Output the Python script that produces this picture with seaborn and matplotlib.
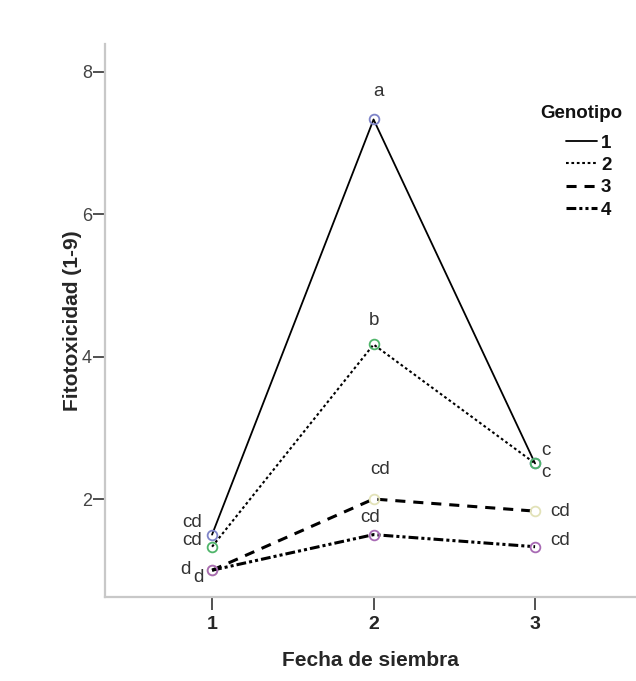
import matplotlib
matplotlib.use("Agg")
import matplotlib.pyplot as plt
import seaborn as sns
import pandas as pd
from matplotlib.lines import Line2D

sns.set_style("white")
plt.rcParams['font.family'] = ['Liberation Sans', 'DejaVu Sans']

fechas = [1, 2, 3]
genotipos = ["1", "2", "3", "4"]
g1 = [1.50, 7.33, 2.50]
g2 = [1.33, 4.17, 2.50]
g3 = [1.00, 2.00, 1.83]
g4 = [1.00, 1.50, 1.33]
series = [g1, g2, g3, g4]
marker_colors = ["#7e84c8", "#4fb56a", "#e2e2b8", "#a86ab4"]
line_styles = ["-", (0, (1.3, 1.3)), (0, (3.3, 2.6)), (0, (3.2, 1.0, 1.0, 1.0, 1.0, 1.0))]
line_widths = [1.3, 1.5, 2.2, 2.2]

# letters: (genotype index, fecha index, text, dx px, dy px)
letras = [
    (0, 0, "cd", -20, 12), (1, 0, "cd", -20, 6), (2, 0, "d", -27, 1), (3, 0, "d", -14, -7),
    (0, 1, "a", 5, 28), (1, 1, "b", 0, 24), (2, 1, "cd", 7, 30), (3, 1, "cd", -3, 17),
    (0, 2, "c", 11, 13), (1, 2, "c", 11, -9), (2, 2, "cd", 25, 0), (3, 2, "cd", 25, 6),
]

fig = plt.figure(figsize=(6.36, 6.81), dpi=100)
ax = fig.add_axes([105/636, 1-597/681, 1-105/636, (597-44)/681])

for vals, mc, ls, lw in zip(series, marker_colors, line_styles, line_widths):
    df = pd.DataFrame({"Fecha": fechas, "Fito": vals})
    sns.lineplot(data=df, x="Fecha", y="Fito", ax=ax, color="black",
                 linestyle=ls, linewidth=lw, marker="o", markersize=7,
                 markerfacecolor="none", markeredgecolor=mc, markeredgewidth=1.3)

for gi, fi, t, dx, dy in letras:
    ax.annotate(t, (fechas[fi], series[gi][fi]), xytext=(dx, dy),
                textcoords="offset pixels", ha="center", va="center",
                fontsize=13.5, color="#333333")

ax.set_xlim(0.337, 3.625)
ax.set_ylim(0.624, 8.39)
ax.set_xticks(fechas)
ax.set_xticklabels([str(f) for f in fechas], fontweight="bold", fontsize=14)
ax.set_yticks([2, 4, 6, 8])
ax.set_yticklabels(["2", "4", "6", "8"], fontsize=13, color="#444444")
ax.tick_params(axis="both", length=9, width=1.2, color="#333333",
               bottom=True, left=True)
ax.tick_params(axis="x", pad=5)
ax.tick_params(axis="y", pad=0.5)
for s in ["top", "right"]:
    ax.spines[s].set_visible(False)
for s in ["left", "bottom"]:
    ax.spines[s].set_color("#c8c8c8")
    ax.spines[s].set_linewidth(1.6)
ax.set_xlabel("Fecha de siembra", fontsize=15, fontweight="bold", labelpad=13)
ax.set_ylabel("Fitotoxicidad (1-9)", fontsize=15, fontweight="bold", labelpad=0)

handles = [Line2D([0], [0], color="black", linestyle=ls, linewidth=lw)
           for ls, lw in zip(line_styles, line_widths)]
leg = ax.legend(handles, genotipos, frameon=False,
                loc="upper left", bbox_to_anchor=(557/636, 1-125/681),
                bbox_transform=fig.transFigure, handlelength=1.65,
                handletextpad=0.2, labelspacing=0.28, borderpad=0,
                prop={"weight": "bold", "size": 13.5})
for t in leg.get_texts():
    t.set_color("#111111")
fig.text(540/636, 1-114/681, "Genotipo", ha="left", va="center",
         fontsize=13.5, fontweight="bold", color="#111111")

fig.savefig("out.png", dpi=100, facecolor="white")
